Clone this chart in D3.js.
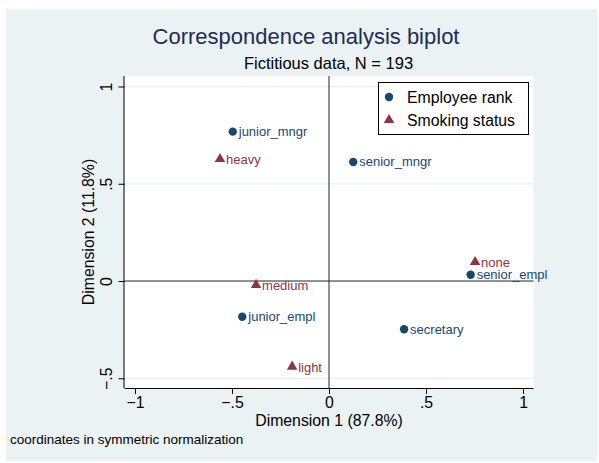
<!DOCTYPE html>
<html>
<head>
<meta charset="utf-8">
<script src="https://cdn.jsdelivr.net/npm/d3@7"></script>
<style>
  body { margin: 0; background: white; }
  text { font-family: "Liberation Sans", Arial, Helvetica, sans-serif; }
</style>
</head>
<body>
<div id="graph-container"></div>
<script>
// row points (Employee rank)
const rankNames = ["junior_mngr", "senior_mngr", "senior_empl", "secretary", "junior_empl"]
const rankX = [-0.496, 0.125, 0.730, 0.387, -0.447]
const rankY = [0.768, 0.612, 0.032, -0.248, -0.184]

// column points (Smoking status)
const smokeNames = ["heavy", "none", "medium", "light"]
const smokeX = [-0.562, 0.753, -0.376, -0.190]
const smokeY = [0.627, 0.098, -0.020, -0.440]

const xTicks = [-1, -0.5, 0, 0.5, 1]
const yTicks = [-0.5, 0, 0.5, 1]
const tickLabel = v => v === 0 ? "0" : (v < 0 ? "\u2212" : "") + String(Math.abs(v)).replace(/^0/, "")

const navy = "#1a476f"
const maroon = "#90353b"
const bg = "#eaf2f3"

const width = 599
const height = 463
const plot = { left: 124.5, right: 533.5, top: 76, bottom: 388 }

const x = d3.scaleLinear().domain([-1.054, 1.054]).range([plot.left, plot.right])
const y = d3.scaleLinear().domain([-0.550, 1.054]).range([plot.bottom, plot.top])

const svg = d3.create("svg")
    .attr("width", width)
    .attr("height", height)

// graph background
svg.append("rect")
    .attr("x", 6).attr("y", 9)
    .attr("width", 591).attr("height", 452)
    .attr("fill", bg)

// plot region
svg.append("rect")
    .attr("x", plot.left).attr("y", plot.top)
    .attr("width", plot.right - plot.left).attr("height", plot.bottom - plot.top)
    .attr("fill", "white")

// horizontal grid
svg.append("g")
    .selectAll("line")
    .data(yTicks.filter(d => d !== 0))
    .join("line")
    .attr("x1", plot.left).attr("x2", plot.right)
    .attr("y1", d => y(d)).attr("y2", d => y(d))
    .attr("stroke", bg)
    .attr("stroke-width", 1.5)

// reference lines through origin
svg.append("line")
    .attr("x1", plot.left).attr("x2", plot.right)
    .attr("y1", y(0)).attr("y2", y(0))
    .attr("stroke", "#222").attr("stroke-width", 1)
svg.append("line")
    .attr("x1", x(0)).attr("x2", x(0))
    .attr("y1", plot.top).attr("y2", plot.bottom)
    .attr("stroke", "#222").attr("stroke-width", 1)

// axes
const xAxis = svg.append("g")
    .attr("transform", `translate(0,${plot.bottom})`)
    .call(d3.axisBottom(x).tickValues(xTicks).tickFormat(tickLabel).tickSize(6).tickPadding(3))
const yAxis = svg.append("g")
    .attr("transform", `translate(${plot.left},0)`)
    .call(d3.axisLeft(y).tickValues(yTicks).tickFormat(tickLabel).tickSize(6).tickPadding(3))

for (const ax of [xAxis, yAxis]) {
    ax.select(".domain").attr("stroke", "black").attr("d", null)
    ax.selectAll(".tick line").attr("stroke", "black")
    ax.selectAll(".tick text")
        .attr("fill", "black")
        .style("font-size", "15.8px")
        .style("font-family", "'Liberation Sans', Arial, sans-serif")
}
xAxis.select(".domain").attr("d", `M${plot.left},0.5H${plot.right}`)
yAxis.select(".domain").attr("d", `M-0.5,${plot.top}V${plot.bottom}`)

// rotate y tick labels
yAxis.selectAll(".tick text")
    .attr("x", null).attr("dy", null)
    .attr("text-anchor", "middle")
    .attr("transform", "translate(-13,0) rotate(-90)")

// axis titles
svg.append("text")
    .attr("x", (plot.left + plot.right) / 2)
    .attr("y", 426)
    .attr("text-anchor", "middle")
    .style("font-size", "15.8px")
    .text("Dimension 1 (87.8%)")

svg.append("text")
    .attr("transform", `translate(94,${(plot.top + plot.bottom) / 2}) rotate(-90)`)
    .attr("text-anchor", "middle")
    .style("font-size", "15.8px")
    .text("Dimension 2 (11.8%)")

// titles
svg.append("text")
    .attr("x", 306).attr("y", 43.5)
    .attr("text-anchor", "middle")
    .attr("fill", "#1e2d53")
    .style("font-size", "22px")
    .text("Correspondence analysis biplot")

svg.append("text")
    .attr("x", 328.5).attr("y", 68.5)
    .attr("text-anchor", "middle")
    .attr("fill", "black")
    .style("font-size", "16.5px")
    .text("Fictitious data, N = 193")

// note
svg.append("text")
    .attr("x", 10).attr("y", 444)
    .style("font-size", "13.5px")
    .text("coordinates in symmetric normalization")

// points
const tri = d3.symbol().type(d3.symbolTriangle).size(48)

const rows = rankNames.map((n, i) => ({ name: n, x: rankX[i], y: rankY[i] }))
const cols = smokeNames.map((n, i) => ({ name: n, x: smokeX[i], y: smokeY[i] }))

svg.append("g")
    .selectAll("circle")
    .data(rows)
    .join("circle")
    .attr("cx", d => x(d.x)).attr("cy", d => y(d.y))
    .attr("r", 4.2)
    .attr("fill", navy)

svg.append("g")
    .selectAll("path")
    .data(cols)
    .join("path")
    .attr("transform", d => `translate(${x(d.x)},${y(d.y)})`)
    .attr("d", tri)
    .attr("fill", maroon)

svg.append("g")
    .selectAll("text")
    .data(rows)
    .join("text")
    .attr("x", d => x(d.x) + 6)
    .attr("y", d => y(d.y) + 4.5)
    .attr("fill", navy)
    .style("font-size", "13px")
    .text(d => d.name)

svg.append("g")
    .selectAll("text")
    .data(cols)
    .join("text")
    .attr("x", d => x(d.x) + 6)
    .attr("y", d => y(d.y) + 5)
    .attr("fill", maroon)
    .style("font-size", "13px")
    .text(d => d.name)

// legend
const legend = svg.append("g")
legend.append("rect")
    .attr("x", 378.5).attr("y", 82.5)
    .attr("width", 150).attr("height", 52)
    .attr("fill", "white")
    .attr("stroke", "black")
legend.append("circle")
    .attr("cx", 389).attr("cy", 97).attr("r", 4.2)
    .attr("fill", navy)
legend.append("path")
    .attr("transform", "translate(389,120)")
    .attr("d", tri)
    .attr("fill", maroon)
legend.append("text")
    .attr("x", 407).attr("y", 102.5)
    .style("font-size", "15.8px")
    .text("Employee rank")
legend.append("text")
    .attr("x", 407).attr("y", 125.5)
    .style("font-size", "15.8px")
    .text("Smoking status")

document.getElementById("graph-container").appendChild(svg.node())
</script>
</body>
</html>
